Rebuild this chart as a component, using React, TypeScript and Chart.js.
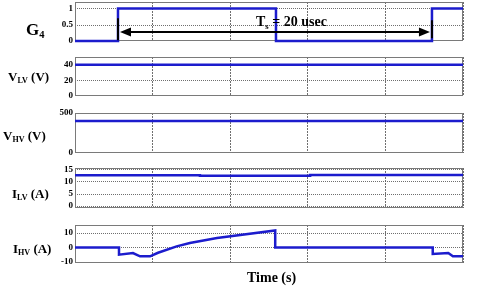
import React, { useEffect, useRef } from "react";
import { Chart, registerables } from "chart.js";

Chart.register(...registerables);

// ---------- data ----------
const timeMin = 0;
const timeMax = 5;
const timeGrid = [0, 1, 2, 3, 4, 5];

const g4Times = [0, 0.554, 0.554, 2.59, 2.59, 4.6, 4.6, 5];
const g4Values = [0, 0, 1, 1, 0, 0, 1, 1];
const g4Ticks = [0, 0.5, 1];

const vlvTimes = [0, 5];
const vlvValues = [40, 40];
const vlvTicks = [0, 20, 40];

const vhvTimes = [0, 5];
const vhvValues = [400, 400];
const vhvTicks = [0, 500];

const ilvTimes = [0, 1.61, 1.61, 3.03, 3.03, 5];
const ilvValues = [12.5, 12.5, 12.3, 12.3, 12.6, 12.6];
const ilvTicks = [0, 5, 10, 15];

const ihvTimes = [0, 0.567, 0.567, 0.747, 0.838, 0.967, 1.07, 1.31, 1.48, 1.83, 2.58, 2.58, 4.61, 4.61, 4.81, 4.87, 5];
const ihvValues = [0, 0, -5.0, -3.9, -6.2, -6.2, -3.7, 0.7, 3.0, 6.5, 11.7, 0, 0, -4.5, -3.9, -6.2, -6.2];
const ihvTicks = [-10, 0, 10];

const periodLabel = "20 usec";
const arrowLevel = 0.28;

// ---------- styles ----------
const BLUE = "rgb(28,28,205)";
const GRID = "rgba(95,95,95,0.9)";
const BOX = "#7a7a7a";
const SERIF = "'Liberation Serif', 'Times New Roman', serif";
const PAD = 8;
const LEFT = 75;
const RIGHT_PAD = 17;

type Panel = {
  times: number[];
  values: number[];
  ticks: number[];
  min: number;
  max: number;
  top: number;
  bottom: number;
  arrow?: boolean;
};

const panels: Panel[] = [
  { times: g4Times, values: g4Values, ticks: g4Ticks, min: 0, max: 1.2, top: 2, bottom: 41, arrow: true },
  { times: vlvTimes, values: vlvValues, ticks: vlvTicks, min: 0, max: 50, top: 57, bottom: 96 },
  { times: vhvTimes, values: vhvValues, ticks: vhvTicks, min: 0, max: 500, top: 113, bottom: 153 },
  { times: ilvTimes, values: ilvValues, ticks: ilvTicks, min: -0.8, max: 15.5, top: 168, bottom: 208 },
  { times: ihvTimes, values: ihvValues, ticks: ihvTicks, min: -10.8, max: 15.5, top: 225, bottom: 263 },
];

const boxPlugin = {
  id: "box",
  beforeDatasetsDraw(chart: any) {
    const { ctx, chartArea: a, scales } = chart;
    ctx.save();
    // dotted horizontal grid lines at the y ticks
    ctx.strokeStyle = GRID;
    ctx.lineWidth = 1;
    ctx.setLineDash([1, 1]);
    for (const t of scales.y.ticks) {
      const y = Math.round(scales.y.getPixelForValue(t.value)) + 0.5;
      if (y <= a.top + 1 || y >= a.bottom - 1) continue;
      ctx.beginPath();
      ctx.moveTo(a.left, y);
      ctx.lineTo(a.right, y);
      ctx.stroke();
    }
    ctx.strokeStyle = BOX;
    ctx.setLineDash([]);
    ctx.strokeRect(a.left + 0.5, a.top + 0.5, a.right - a.left - 1, a.bottom - a.top - 1);
    ctx.restore();
  },
};

const arrowPlugin = {
  id: "periodArrow",
  afterDatasetsDraw(chart: any) {
    const { ctx, scales } = chart;
    const rises: number[] = [];
    for (let i = 1; i < g4Values.length; i++) {
      if (g4Values[i] > g4Values[i - 1]) rises.push(g4Times[i]);
    }
    if (rises.length < 2) return;
    const x1 = scales.x.getPixelForValue(rises[0]);
    const x2 = scales.x.getPixelForValue(rises[1]);
    const y = scales.y.getPixelForValue(arrowLevel);
    const yTop = scales.y.getPixelForValue(0.7);
    const yBot = scales.y.getPixelForValue(0.02);
    ctx.save();
    ctx.strokeStyle = "#000";
    ctx.fillStyle = "#000";
    ctx.lineWidth = 2;
    ctx.beginPath();
    ctx.moveTo(x1, yTop);
    ctx.lineTo(x1, yBot);
    ctx.moveTo(x2, yTop + 2);
    ctx.lineTo(x2, yBot - 2);
    ctx.moveTo(x1 + 8, y);
    ctx.lineTo(x2 - 8, y);
    ctx.stroke();
    const head = (tip: number, dir: number) => {
      ctx.beginPath();
      ctx.moveTo(tip, y);
      ctx.lineTo(tip + dir * 11, y - 4.5);
      ctx.lineTo(tip + dir * 11, y + 4.5);
      ctx.closePath();
      ctx.fill();
    };
    head(x1 + 2, 1);
    head(x2 - 2, -1);
    ctx.restore();
  },
};

function PanelChart({ p }: { p: Panel }) {
  const ref = useRef<HTMLCanvasElement>(null);
  const h = p.bottom - p.top + 2 * PAD;
  useEffect(() => {
    if (!ref.current) return;
    const chart = new Chart(ref.current, {
      type: "line",
      data: {
        datasets: [
          {
            data: p.times.map((t, i) => ({ x: t, y: p.values[i] })),
            borderColor: BLUE,
            borderWidth: 2.5,
            pointRadius: 0,
            tension: 0,
            clip: 4,
          } as any,
        ],
      },
      options: {
        animation: false,
        responsive: false,
        events: [],
        layout: { padding: { left: 0, right: RIGHT_PAD, top: PAD, bottom: PAD } },
        plugins: { legend: { display: false }, tooltip: { enabled: false } },
        scales: {
          x: {
            type: "linear",
            min: timeMin,
            max: timeMax,
            afterBuildTicks: (s: any) => {
              s.ticks = timeGrid.map((v) => ({ value: v }));
            },
            ticks: { display: false, autoSkip: false },
            grid: { color: GRID, lineWidth: 1, drawTicks: false, tickLength: 0 },
            border: { display: false, dash: [2, 1] },
          },
          y: {
            type: "linear",
            min: p.min,
            max: p.max,
            afterBuildTicks: (s: any) => {
              s.ticks = p.ticks.map((v) => ({ value: v }));
            },
            afterFit: (s: any) => {
              s.width = LEFT;
            },
            ticks: {
              color: "#000",
              padding: 2,
              autoSkip: false,
              font: { family: SERIF, size: 9, weight: "bold" },
              callback: (v: any) => String(v),
            },
            grid: { display: false, drawTicks: false },
            border: { display: false },
          },
        },
      } as any,
      plugins: p.arrow ? [boxPlugin, arrowPlugin] : [boxPlugin],
    });
    return () => chart.destroy();
  }, []);
  return (
    <div style={{ position: "absolute", left: 0, top: p.top - PAD, width: 480, height: h }}>
      <canvas ref={ref} width={480} height={h} style={{ display: "block", width: 480, height: h }} />
    </div>
  );
}

function Label({
  left,
  baseline,
  size,
  main,
  sub,
  rest,
}: {
  left: number;
  baseline: number;
  size: number;
  main: string;
  sub?: string;
  rest?: string;
}) {
  return (
    <div
      style={{
        position: "absolute",
        left,
        top: baseline - 0.84 * size,
        fontFamily: SERIF,
        fontWeight: "bold",
        fontSize: size,
        lineHeight: `${size}px`,
        whiteSpace: "nowrap",
        color: "#000",
      }}
    >
      {main}
      {sub ? (
        <span style={{ fontSize: "0.62em", position: "relative", top: "0.3em" }}>{sub}</span>
      ) : null}
      {rest}
    </div>
  );
}

export default function App() {
  return (
    <div
      style={{
        position: "fixed",
        left: 0,
        top: 0,
        width: 480,
        height: 289,
        background: "#fff",
        overflow: "hidden",
      }}
    >
      {panels.map((p, i) => (
        <PanelChart key={i} p={p} />
      ))}
      <Label left={26} baseline={35} size={17} main="G" sub="4" />
      <Label left={8} baseline={81} size={13} main="V" sub="LV" rest=" (V)" />
      <Label left={3} baseline={140} size={13} main="V" sub="HV" rest=" (V)" />
      <Label left={12} baseline={198} size={13} main="I" sub="LV" rest=" (A)" />
      <Label left={13} baseline={253} size={13} main="I" sub="HV" rest=" (A)" />
      <Label left={256} baseline={27} size={14} main="T" sub="s" rest={" = " + periodLabel} />
      <Label left={247} baseline={283} size={14} main="Time (s)" />
    </div>
  );
}
